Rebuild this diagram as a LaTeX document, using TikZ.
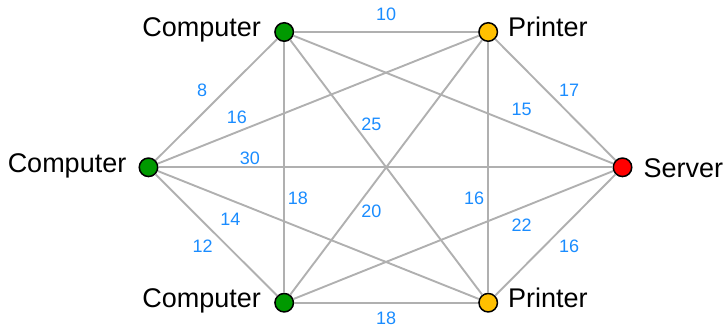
\documentclass[tikz,border=0pt]{standalone}
\usepackage{fontspec}
\setmainfont{Liberation Sans}
\usetikzlibrary{calc}
\definecolor{nodegreen}{RGB}{0,153,0}
\definecolor{nodeorange}{RGB}{255,192,0}
\definecolor{nodered}{RGB}{255,0,0}
\definecolor{edgegray}{RGB}{176,176,176}
\definecolor{wblue}{RGB}{26,140,255}
\tikzset{
  vertex/.style={circle, draw=black, line width=1.5pt, minimum size=18.5pt, inner sep=0pt},
  comp/.style={vertex, fill=nodegreen},
  prn/.style={vertex, fill=nodeorange},
  srv/.style={vertex, fill=nodered},
  linkline/.style={draw=edgegray, line width=1.9pt},
  nametext/.style={inner sep=0pt, font=\fontsize{27}{32}\selectfont},
  weight/.style={inner sep=0pt, text=wblue, font=\fontsize{18}{21}\selectfont}
}
\begin{document}
\begin{tikzpicture}[x=1pt, y=-1pt]
\useasboundingbox (0,0) rectangle (726,327);
% vertices
\node[comp] (ct) at (284.2,32) {};
\node[prn]  (pt) at (488.2,32) {};
\node[comp] (cl) at (148.5,167.3) {};
\node[srv]  (sv) at (622.5,167.3) {};
\node[comp] (cb) at (284.2,302.7) {};
\node[prn]  (pb) at (488.2,302.7) {};
% names
\node[nametext, anchor=base east] (nct) at ($(ct)+(-23,4.8)$) {Computer};
\node[nametext, anchor=base west] (npt) at ($(pt)+(19.8,4.5)$) {Printer};
\node[nametext, anchor=base east] (ncl) at ($(cl)+(-22,5)$) {Computer};
\node[nametext, anchor=base west] (nsv) at ($(sv)+(21,10.4)$) {Server};
\node[nametext, anchor=base east] (ncb) at ($(cb)+(-23,5.2)$) {Computer};
\node[nametext, anchor=base west] (npb) at ($(pb)+(19.8,5.2)$) {Printer};
% edges
\draw[linkline] (ct) -- (pt);
\draw[linkline] (cl) -- (ct);
\draw[linkline] (cl) -- (pt);
\draw[linkline] (ct) -- (pb);
\draw[linkline] (ct) -- (sv);
\draw[linkline] (pt) -- (sv);
\draw[linkline] (cl) -- (sv);
\draw[linkline] (ct) -- (cb);
\draw[linkline] (cb) -- (pt);
\draw[linkline] (pt) -- (pb);
\draw[linkline] (cl) -- (pb);
\draw[linkline] (cb) -- (sv);
\draw[linkline] (cl) -- (cb);
\draw[linkline] (pb) -- (sv);
\draw[linkline] (cb) -- (pb);
% weights
\node[weight] (w1)  at ($(ct)!0.5!(pt)+(0,-17.5)$) {10};
\node[weight] (w2)  at ($(cl)!0.5!(ct)+(-14.2,-9.7)$) {8};
\node[weight] (w3)  at ($(cl)!0.26!(pt)+(0,-14.9)$) {16};
\node[weight] (w4)  at ($(ct)!0.341!(pb)+(17.6,0)$) {25};
\node[weight] (w5)  at ($(ct)!0.702!(sv)+(0,-17.7)$) {15};
\node[weight] (w6)  at ($(pt)!0.5!(sv)+(13.8,-9.7)$) {17};
\node[weight] (w7)  at ($(cl)!0.214!(sv)+(0,-9)$) {30};
\node[weight] (w8)  at ($(ct)!0.613!(cb)+(13.6,0)$) {18};
\node[weight] (w9)  at ($(cb)!0.336!(pt)+(18.7,0)$) {20};
\node[weight] (w10) at ($(pt)!0.613!(pb)+(-14,0)$) {16};
\node[weight] (w11) at ($(cl)!0.241!(pb)+(0,19.4)$) {14};
\node[weight] (w12) at ($(cb)!0.702!(sv)+(0,17.3)$) {22};
\node[weight] (w13) at ($(cl)!0.5!(cb)+(-13.8,11)$) {12};
\node[weight] (w14) at ($(pb)!0.5!(sv)+(13.8,11)$) {16};
\node[weight] (w15) at ($(cb)!0.5!(pb)+(0,15.6)$) {18};
\end{tikzpicture}
\end{document}
